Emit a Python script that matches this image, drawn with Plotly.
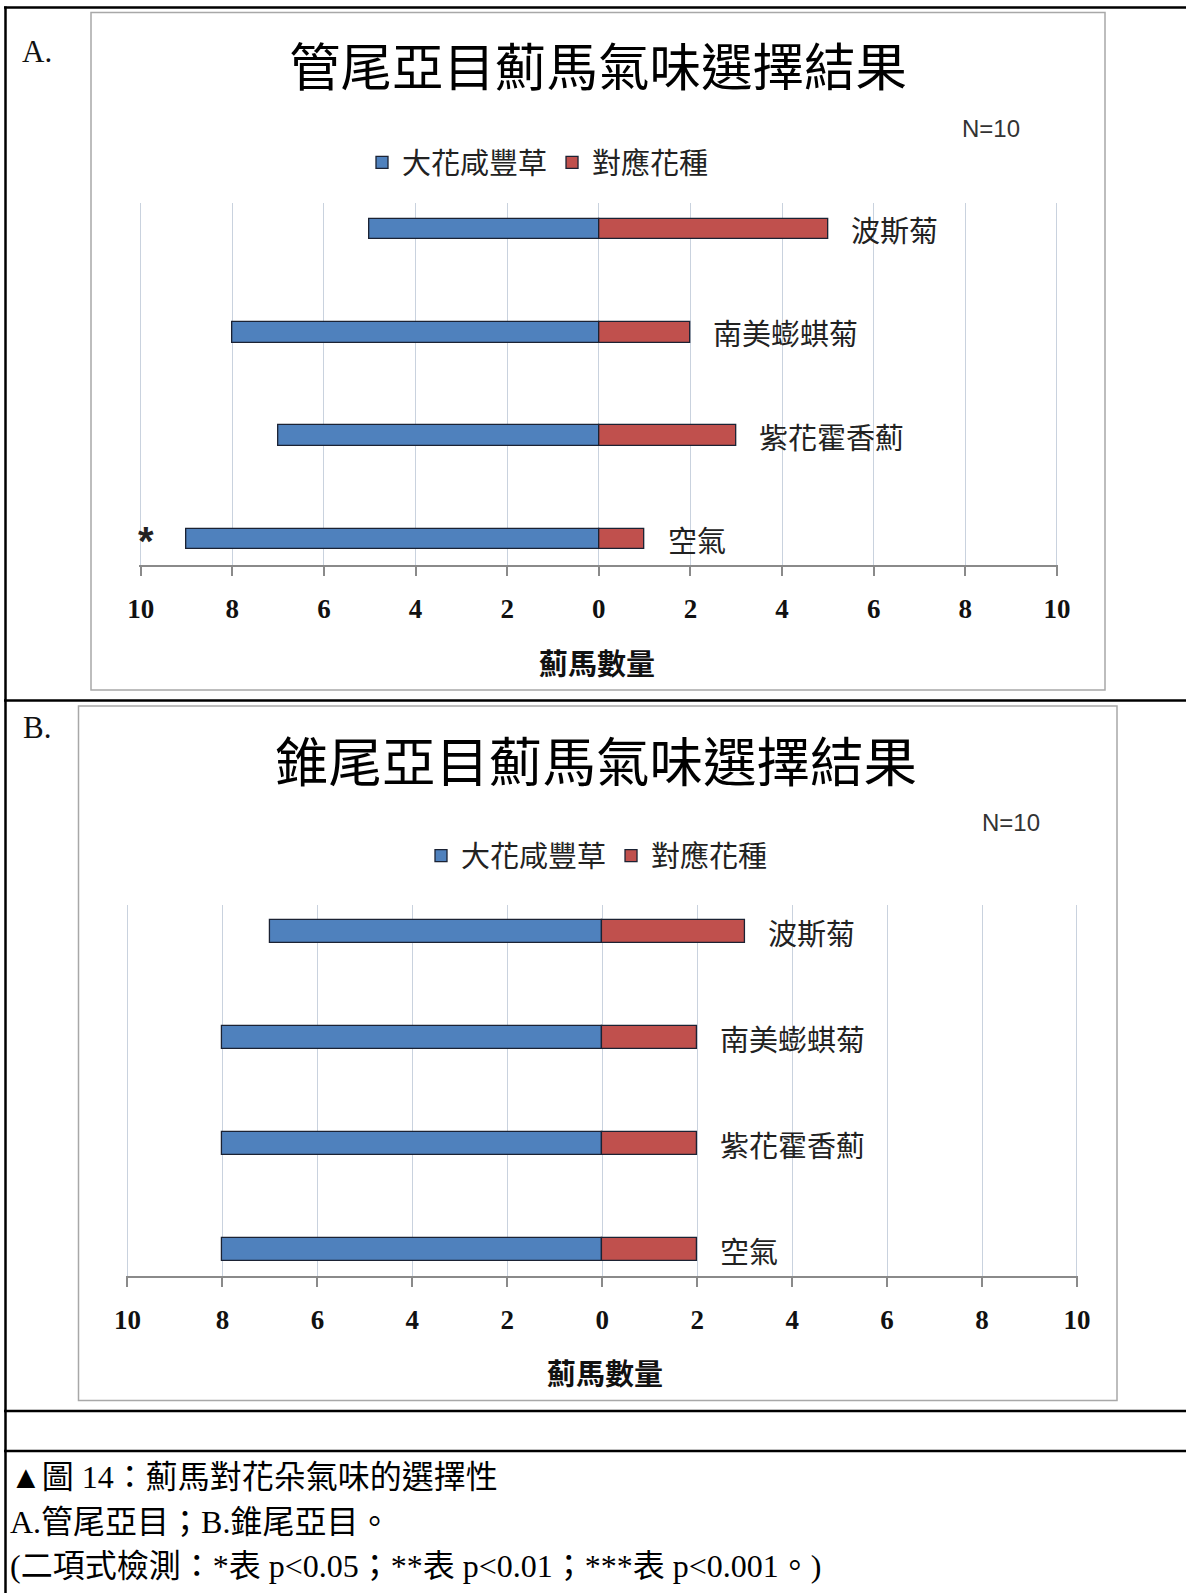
import plotly.graph_objects as go

# ---- data -----------------------------------------------------------------
categories = ["波斯菊", "南美蟛蜞菊", "紫花霍香薊", "空氣"]
series_names = ["大花咸豐草", "對應花種"]

# A. 管尾亞目
a_bidens = [5, 8, 7, 9]
a_paired = [5, 2, 3, 1]
a_sig = ["", "", "", "*"]

# B. 錐尾亞目
b_bidens = [7, 8, 8, 8]
b_paired = [3, 2, 2, 2]
b_sig = ["", "", "", ""]

tick_vals = [-10, -8, -6, -4, -2, 0, 2, 4, 6, 8, 10]
tick_text = ["10", "8", "6", "4", "2", "0", "2", "4", "6", "8", "10"]

panel_labels = ["A.", "B."]
panel_titles = ["管尾亞目薊馬氣味選擇結果", "錐尾亞目薊馬氣味選擇結果"]
x_title = "薊馬數量"
n_label = "N=10"

caption_lines = [
    "▲圖 14：薊馬對花朵氣味的選擇性",
    "A.管尾亞目；B.錐尾亞目。",
    "(二項式檢測：*表 p<0.05；**表 p<0.01；***表 p<0.001。)",
]

# ---- styling ----------------------------------------------------------------
W, H = 1186, 1593
BLUE = "#4F81BD"
RED = "#C0504D"
EDGE = "#1B2233"
GRID = "#C9D2DE"
AXIS = "#8A8A8A"
FRAME = "#A8A8A8"
CJK = "Noto Sans CJK TC"
SERIF_MIX = "Liberation Serif, Noto Sans CJK TC, serif"
XPAD = 0.03  # small range padding so the gridlines at ±10 are kept


def fx(px):
    return px / W


def fy(py):
    return 1 - py / H


panels = [
    dict(blue=a_bidens, red=a_paired, sig=a_sig, xa="x", ya="y", leg="legend",
         xdom=(140.7, 1057), ydom=(565, 203), bw=0.2,
         title_xy=(598, 64), title_size=51.5,
         n_xy=(960, 129), legend_xy=(362, 162.6),
         xtitle_xy=(597, 661.6), label_xy=(37, 51),
         frame=(91, 12.5, 1105, 690)),
    dict(blue=b_bidens, red=b_paired, sig=b_sig, xa="x2", ya="y2", leg="legend2",
         xdom=(127.5, 1077), ydom=(1276, 905), bw=0.21,
         title_xy=(596, 758), title_size=53.5,
         n_xy=(980, 823), legend_xy=(421, 855.7),
         xtitle_xy=(605, 1372), label_xy=(37, 727),
         frame=(78.5, 706, 1117, 1400.5)),
]

fig = go.Figure()
annotations = []
shapes = []
layout_axes = {}

for k, p in enumerate(panels):
    # left-pointing bars for 大花咸豐草, right-pointing for 對應花種
    fig.add_trace(go.Bar(
        y=categories, x=[-v for v in p["blue"]], orientation="h",
        name=series_names[0], width=p["bw"],
        marker=dict(color=BLUE, line=dict(color=EDGE, width=1.3)),
        xaxis=p["xa"], yaxis=p["ya"], legend=p["leg"],
    ))
    fig.add_trace(go.Bar(
        y=categories, x=p["red"], orientation="h",
        name=series_names[1], width=p["bw"],
        marker=dict(color=RED, line=dict(color=EDGE, width=1.3)),
        xaxis=p["xa"], yaxis=p["ya"], legend=p["leg"],
    ))

    # widen the domain by the padding so ±10 stay at the intended pixels
    x_lo, x_hi = p["xdom"]
    per_unit = (x_hi - x_lo) / 20.0
    x_lo -= XPAD * per_unit
    x_hi += XPAD * per_unit

    xkey = "xaxis" if k == 0 else "xaxis2"
    ykey = "yaxis" if k == 0 else "yaxis2"
    layout_axes[xkey] = dict(
        domain=[fx(x_lo), fx(x_hi)],
        anchor=p["ya"], range=[-10 - XPAD, 10 + XPAD],
        tickmode="array", tickvals=tick_vals, ticktext=tick_text,
        showgrid=True, gridcolor=GRID, gridwidth=1,
        zeroline=False, showline=True, linecolor=AXIS, linewidth=1.5,
        ticks="outside", ticklen=9, tickwidth=1.5, tickcolor=AXIS,
        tickfont=dict(family="Liberation Serif, serif", size=27,
                      color="#111111", weight="bold"),
        ticklabelstandoff=10, automargin=False, fixedrange=True,
    )
    layout_axes[ykey] = dict(
        domain=[fy(p["ydom"][0]), fy(p["ydom"][1])],
        anchor=p["xa"], range=[-0.25, 3.25],
        type="category", categoryorder="array",
        categoryarray=categories[::-1],
        showticklabels=False, showgrid=False, zeroline=False,
        showline=False, ticks="", automargin=False, fixedrange=True,
    )

    # category names beside the right-hand bars
    for cat, r, s, b in zip(categories, p["red"], p["sig"], p["blue"]):
        annotations.append(dict(
            x=r, y=cat, xref=p["xa"], yref=p["ya"], text=cat,
            xanchor="left", yanchor="middle", xshift=21, showarrow=False,
            font=dict(family=CJK, size=29, color="#222222"),
        ))
        if s:
            annotations.append(dict(
                x=-b, y=cat, xref=p["xa"], yref=p["ya"], text=s,
                xanchor="center", yanchor="middle", xshift=-41, yshift=-2,
                showarrow=False,
                font=dict(family="Liberation Sans, sans-serif", size=40,
                          color="#222222", weight="bold"),
            ))

    # chart title, N label, axis title, panel letter
    annotations.append(dict(
        x=fx(p["title_xy"][0]), y=fy(p["title_xy"][1]), xref="paper", yref="paper",
        text=panel_titles[k], xanchor="center", yanchor="middle", showarrow=False,
        font=dict(family=CJK, size=p["title_size"], color="#000000"),
    ))
    annotations.append(dict(
        x=fx(p["n_xy"][0]), y=fy(p["n_xy"][1]), xref="paper", yref="paper",
        text=n_label, xanchor="left", yanchor="middle", showarrow=False,
        font=dict(family="Liberation Sans, Arial, sans-serif", size=24, color="#333333"),
    ))
    annotations.append(dict(
        x=fx(p["xtitle_xy"][0]), y=fy(p["xtitle_xy"][1]), xref="paper", yref="paper",
        text=x_title, xanchor="center", yanchor="middle", showarrow=False,
        font=dict(family=CJK, size=29, color="#111111", weight="bold"),
    ))
    annotations.append(dict(
        x=fx(p["label_xy"][0]), y=fy(p["label_xy"][1]), xref="paper", yref="paper",
        text=panel_labels[k], xanchor="center", yanchor="middle", showarrow=False,
        font=dict(family="Liberation Serif, serif", size=31, color="#111111"),
    ))

    # chart frame
    x0, y0, x1, y1 = p["frame"]
    shapes.append(dict(
        type="rect", xref="paper", yref="paper",
        x0=fx(x0), y0=fy(y1), x1=fx(x1), y1=fy(y0),
        line=dict(color=FRAME, width=1.5), fillcolor="rgba(0,0,0,0)", layer="below",
    ))

# caption below the charts
for i, line in enumerate(caption_lines):
    annotations.append(dict(
        x=fx(8), y=fy(1477 + 44.5 * i), xref="paper", yref="paper",
        text=line.replace("<", "&lt;"), xanchor="left", yanchor="middle",
        showarrow=False, font=dict(family=SERIF_MIX, size=32, color="#000000"),
    ))

# table rules
for yy in (7.5, 700.5, 1411, 1451):
    shapes.append(dict(type="line", xref="paper", yref="paper",
                       x0=fx(4), x1=1, y0=fy(yy), y1=fy(yy),
                       line=dict(color="#000000", width=2.5)))
shapes.append(dict(type="line", xref="paper", yref="paper",
                   x0=fx(5.5), x1=fx(5.5), y0=fy(6.5), y1=0,
                   line=dict(color="#000000", width=2.5)))

legend_style = dict(
    orientation="h", xanchor="left", yanchor="middle",
    font=dict(family=CJK, size=29, color="#222222"),
    bgcolor="rgba(0,0,0,0)", borderwidth=0, itemclick=False, itemdoubleclick=False,
    traceorder="normal",
)

fig.update_layout(
    width=W, height=H,
    margin=dict(l=0, r=0, t=0, b=0, pad=0, autoexpand=False),
    paper_bgcolor="white", plot_bgcolor="rgba(0,0,0,0)",
    barmode="relative", bargap=0,
    showlegend=True,
    legend=dict(x=fx(panels[0]["legend_xy"][0]), y=fy(panels[0]["legend_xy"][1]), **legend_style),
    legend2=dict(x=fx(panels[1]["legend_xy"][0]), y=fy(panels[1]["legend_xy"][1]), **legend_style),
    annotations=annotations, shapes=shapes,
    **layout_axes,
)

fig.write_html("out.html", config=dict(displayModeBar=False))
